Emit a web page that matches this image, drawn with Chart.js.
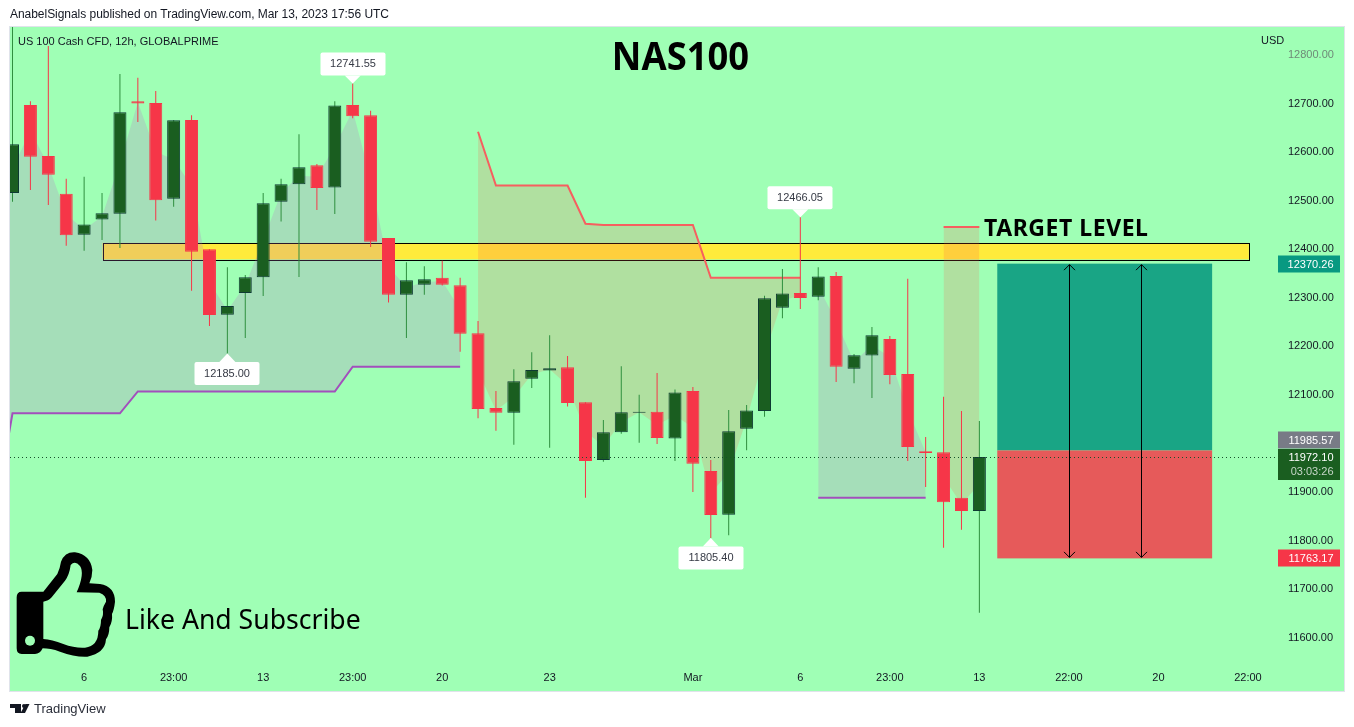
<!DOCTYPE html>
<html><head><meta charset="utf-8">
<style>html,body{margin:0;padding:0;background:#fff}canvas{display:block}</style>
<script src="https://cdn.jsdelivr.net/npm/chart.js@4/dist/chart.umd.min.js"></script>
</head><body><canvas id="c" width="1354" height="727"></canvas>
<script>
const opens=[12516,12697,12592,12514,12430,12461,12473,12705,12701,12504,12666,12400,12265,12310,12342,12498,12534,12573,12527,12697,12676,12423,12306,12327,12341,12326,12227,12073,12063,12133,12150,12157,12085,11966,12023,12063,12065,12010,12108,11943,11853,12030,12067,12279.5,12310,12302,12345,12154,12181,12215,12143,11984,11982,11888,11861];
const highs=[12860,12705,12818.5,12545,12549,12516,12761,12753,12726,12666,12676,12400,12363,12347,12516,12545,12637,12575.5,12705,12741.55,12685,12423,12373,12365,12376,12341,12252,12108,12153,12188,12223,12180,12085,12048,12159,12100,12145,12111,12116,11966,12069,12079,12304,12359,12466.05,12363,12353,12184,12240,12221,12339,12013,12096,12067,12046];
const lows=[12498,12522,12491,12407,12397,12419,12402.5,12662,12459,12487.5,12314.5,12242,12185,12217,12303.6,12457,12343,12481,12472.5,12670,12404.5,12290,12217,12306,12325,12189,12052,12026,11997,12114,11991,12076,11888,11962,12020,12001.5,11999,11964,11900,11805.4,11811,11986,12055,12258,12277,12295,12126.5,12124,12093.5,12122,11964,11910,11785,11822,11651];
const closes=[12616,12590.5,12553.5,12429,12451,12474,12682,12700,12501,12665.5,12395,12264.5,12283,12342,12494.6,12534,12569,12526,12696,12674,12415.5,12306,12336,12338,12327,12226,12071,12063,12128,12151,12155,12083,11964,12023,12064,12065,12011,12105,11958,11852.5,12025,12068,12299,12309,12299.5,12344,12158,12181.5,12223,12141,11992.6,11980,11879,11861,11972.1];
const priorMid=12530;
const supportA=[11850,12062,12062,12062,12062,12062,12062,12062,12107,12107,12107,12107,12107,12107,12107,12107,12107,12107,12107,12107,12158,12158,12158,12158,12158,12158,12158];
const resistanceA=[12642,12531,12531,12531,12531,12531,12452.5,12450,12450,12450,12450,12450,12450,12341,12341,12341,12341,12341,12341];
const supportB=[11888,11888,11888,11888,11888,11888,11888];
const resistanceB=[12446,12446,12446];
const xTickAt=[4,9,14,19,24,30,38,44,49,54,59,64,69];
const xTickText=['6','23:00','13','23:00','20','23','Mar','6','23:00','13','22:00','20','22:00'];
const priceTicks=[11600,11700,11800,11900,12000,12100,12200,12300,12400,12500,12600,12700,12800];
const targetZone={xFrom:5.03,xTo:69.05,top:12413,bottom:12379};
const position={xFrom:55,xTo:67,target:12370.26,entry:11985.57,stop:11763.17,arrows:[59,63]};
const lastPrice=11972.10, countdown='03:03:26';
const callouts=[{i:19,price:12741.55,up:true},{i:44,price:12466.05,up:true},{i:12,price:12185.00,up:false},{i:39,price:11805.40,up:false}];

const UP='#1a5e20',UPB='#0e3a33',UPW='#2f8f3f',DN='#f63648';
const idx=opens.map((_,i)=>i);
const isUp=i=>closes[i]>=opens[i];
const mid=i=>i<0?priorMid:(opens[i]+closes[i])/2;
const segLine=(vals,start)=>vals.map((v,k)=>({x:start+k,y:v}));
const segMid=(vals,start)=>vals.map((v,k)=>({x:start+k,y:mid(start+k)}));
const FILL_P='rgba(186,105,200,.22)',FILL_R='rgba(255,83,67,.18)',LINE_P='#a24fbc',LINE_R='#f65f5f';
function lineDs(vals,start,col,fillCol){return {type:'line',data:segLine(vals,start),borderColor:col,borderWidth:2,pointRadius:0,tension:0,fill:{target:'+1',above:fillCol,below:fillCol},order:5}}
function midDs(vals,start){return {type:'line',data:segMid(vals,start),borderWidth:0,borderColor:'rgba(0,0,0,0)',pointRadius:0,tension:0,fill:false,order:6}}

const frame={
 id:'frame',
 beforeDraw(ch){const c=ch.ctx;c.save();
  c.fillStyle='#fff';c.fillRect(0,0,1354,727);
  c.fillStyle='#9fffb5';c.fillRect(10,27,1334,664);
  c.strokeStyle='#e0e3eb';c.lineWidth=1;c.strokeRect(9.5,26.5,1335,665);
  c.restore();},
 beforeDatasetsDraw(ch){const c=ch.ctx,x=ch.scales.x,y=ch.scales.y;c.save();
  const x0=x.getPixelForValue(targetZone.xFrom),x1=x.getPixelForValue(targetZone.xTo),y0=y.getPixelForValue(targetZone.top),y1=y.getPixelForValue(targetZone.bottom);
  c.fillStyle='#ffeb3b';c.fillRect(x0,y0,x1-x0,y1-y0);c.strokeStyle='#000';c.lineWidth=1;
  c.strokeRect(Math.round(x0)+.5,Math.round(y0)+.5,Math.round(x1-x0),Math.round(y1-y0));
  c.restore();},
 afterDatasetsDraw(ch){const c=ch.ctx,x=ch.scales.x,y=ch.scales.y;c.save();
  // position box
  const px0=x.getPixelForValue(position.xFrom),px1=x.getPixelForValue(position.xTo);
  const yT=y.getPixelForValue(position.target),yE=y.getPixelForValue(position.entry),yS=y.getPixelForValue(position.stop);
  c.fillStyle='#19a585';c.fillRect(px0,yT,px1-px0,yE-yT);
  c.fillStyle='#e65a5a';c.fillRect(px0,yE,px1-px0,yS-yE);
  c.strokeStyle='#000';c.lineWidth=1;
  position.arrows.forEach(v=>{const ax=Math.round(x.getPixelForValue(v))+.5;
    c.beginPath();c.moveTo(ax,yT+1);c.lineTo(ax,yS-1);c.stroke();
    c.beginPath();c.moveTo(ax-5.5,yT+6.5);c.lineTo(ax,yT+1);c.lineTo(ax+5.5,yT+6.5);c.stroke();
    c.beginPath();c.moveTo(ax-5.5,yS-6.5);c.lineTo(ax,yS-1);c.lineTo(ax+5.5,yS-6.5);c.stroke();});
  // last price dotted
  const yL=Math.round(y.getPixelForValue(lastPrice))+.5;
  c.strokeStyle='#16502a';c.setLineDash([1,3]);c.beginPath();c.moveTo(10,yL);c.lineTo(1278,yL);c.stroke();c.setLineDash([]);
  // callouts
  callouts.forEach(o=>{const cx=x.getPixelForValue(o.i),ty=y.getPixelForValue(o.price),w=65,h=23;
    const bx=Math.round(cx)-32.5;const by=o.up?ty-31:ty+8.5;
    c.fillStyle='#fff';c.beginPath();c.roundRect(bx,by,w,h,2);c.fill();
    c.beginPath();
    if(o.up){c.moveTo(cx-8,by+h);c.lineTo(cx,ty);c.lineTo(cx+8,by+h);}else{c.moveTo(cx-8,by);c.lineTo(cx,ty);c.lineTo(cx+8,by);}
    c.fill();
    c.fillStyle='#363a45';c.font='11px "Liberation Sans"';c.textAlign='center';c.textBaseline='middle';
    c.fillText(o.price.toFixed(2),bx+w/2,by+h/2+.5);});
  // price axis tags
  const tag=(val,col,txtCol,shift)=>{const ty=Math.round(y.getPixelForValue(val))+shift;c.fillStyle=col;c.fillRect(1278,ty-8.5,62,17);
    c.fillStyle=txtCol;c.font='11px "Liberation Sans"';c.textAlign='right';c.textBaseline='middle';c.fillText(val.toFixed(2),1333.5,ty+.5);};
  tag(position.target,'#089981','#fff',0);
  tag(position.entry,'#787b86','#fff',-10);
  tag(position.stop,'#f63648','#fff',0);
  c.fillStyle='#1a5e20';c.fillRect(1278,449,62,31);
  c.textAlign='right';c.textBaseline='middle';c.fillStyle='#fff';c.font='11px "Liberation Sans"';
  c.fillText(lastPrice.toFixed(2),1333.5,457.5);
  c.fillStyle='#c6d6c8';c.fillText(countdown,1333.5,471.5);
  // header / footer / annotations
  c.textAlign='left';c.textBaseline='middle';c.fillStyle='#131722';
  c.font='12px "Liberation Sans"';c.letterSpacing='-0.04px';
  c.fillText('AnabelSignals published on TradingView.com, Mar 13, 2023 17:56 UTC',10,15);
  c.letterSpacing='0px';c.font='11px "Liberation Sans"';
  c.fillText('US 100 Cash CFD, 12h, GLOBALPRIME',18,41.5);
  c.fillText('USD',1261,40.5);
  c.font='13px "Liberation Sans"';c.fillStyle='#2a2e39';
  c.fillText('TradingView',34,709.5);
  c.fillStyle='#000';c.textAlign='center';
  c.save();c.translate(680.5,59);c.scale(0.91,1);c.font='bold 40px "Noto Sans"';c.fillText('NAS100',0,0);c.restore();
  c.textAlign='left';c.letterSpacing='0.55px';
  c.font='bold 23px "Noto Sans"';c.fillText('TARGET LEVEL',984,229.5);
  c.letterSpacing='0px';
  c.font='26.6px "Noto Sans"';c.fillText('Like And Subscribe',125,621);
  // logo
  c.fillStyle='#131722';
  c.beginPath();c.moveTo(10,704);c.lineTo(21,704);c.lineTo(21,713);c.lineTo(15,713);c.lineTo(15,708);c.lineTo(10,708);c.closePath();c.fill();
  c.beginPath();c.arc(24,706,2,0,7);c.fill();
  c.beginPath();c.moveTo(25.5,704);c.lineTo(29.5,704);c.lineTo(25,713);c.lineTo(20.5,713);c.closePath();c.fill();
  // thumb icon
  c.save();c.translate(0,540);c.scale(1/3,1/3);
  c.fillStyle='#000';c.beginPath();c.moveTo(65,155);c.lineTo(130,155);c.lineTo(172,102);c.quadraticCurveTo(180,85,183,65);c.quadraticCurveTo(195,35,225,37);c.quadraticCurveTo(272,45,277,90);c.quadraticCurveTo(277,110,268,130);c.lineTo(300,132);c.quadraticCurveTo(345,140,345,185);c.quadraticCurveTo(342,210,336,222);c.quadraticCurveTo(338,245,328,262);c.quadraticCurveTo(328,285,318,298);c.quadraticCurveTo(315,340,262,350);c.quadraticCurveTo(225,352,180,335);c.quadraticCurveTo(150,325,128,325);c.quadraticCurveTo(120,342,105,342);c.lineTo(65,342);c.quadraticCurveTo(50,342,50,325);c.lineTo(50,172);c.quadraticCurveTo(50,155,65,155);c.closePath();c.fill();
  c.fillStyle='#9fffb5';c.beginPath();c.moveTo(130,297);c.lineTo(130,185);c.quadraticCurveTo(145,183,155,172);c.lineTo(195,122);c.quadraticCurveTo(208,105,212,75);c.quadraticCurveTo(225,60,240,78);c.quadraticCurveTo(255,100,230,157);c.lineTo(298,158);c.quadraticCurveTo(320,165,318,185);c.quadraticCurveTo(310,198,308,208);c.quadraticCurveTo(312,225,303,240);c.quadraticCurveTo(303,262,295,272);c.quadraticCurveTo(295,318,255,323);c.quadraticCurveTo(225,325,190,312);c.quadraticCurveTo(155,298,130,297);c.closePath();c.fill();
  c.beginPath();c.arc(90,302,15,0,7);c.fill();
  c.restore();
  c.restore();}
};

new Chart(document.getElementById('c'),{
 type:'bar',
 data:{datasets:[
  lineDs(supportA,-1,LINE_P,FILL_P),midDs(supportA,-1),
  lineDs(resistanceA,26,LINE_R,FILL_R),midDs(resistanceA,26),
  lineDs(supportB,45,LINE_P,FILL_P),midDs(supportB,45),
  lineDs(resistanceB,52,LINE_R,FILL_R),midDs(resistanceB,52),
  {type:'bar',data:idx.map(i=>({x:i,y:[lows[i],highs[i]]})),barThickness:1,grouped:false,inflateAmount:0,borderWidth:0,
   backgroundColor:idx.map(i=>isUp(i)?UPW:DN),order:2},
  {type:'bar',data:idx.map(i=>({x:i,y:[Math.min(opens[i],closes[i]),Math.max(opens[i],closes[i])]})),barThickness:13,grouped:false,inflateAmount:0,borderWidth:1,borderSkipped:false,
   backgroundColor:idx.map(i=>isUp(i)?UP:DN),borderColor:idx.map(i=>isUp(i)?UPB:DN),order:1}
 ]},
 options:{responsive:false,animation:false,devicePixelRatio:1,
  layout:{padding:{left:10,right:10,top:27,bottom:36}},
  plugins:{legend:{display:false},tooltip:{enabled:false},title:{display:false}},
  scales:{
   x:{type:'linear',offset:false,min:-0.14,max:69.45,
     grid:{display:false,tickLength:0},border:{display:false},
     afterFit(s){s.height=28;s.paddingLeft=0;s.paddingRight=0},
     afterBuildTicks(s){s.ticks=xTickAt.map(v=>({value:v}))},
     ticks:{autoSkip:false,maxRotation:0,padding:8,color:'#131722',font:{family:'"Liberation Sans"',size:11},
       callback(v){const k=xTickAt.indexOf(v);return k<0?'':xTickText[k]}}},
   y:{type:'linear',position:'right',min:11547.7,max:12857.7,
     grid:{display:false,tickLength:0},border:{display:false},
     afterFit(s){s.width=88;s.paddingTop=0;s.paddingBottom=0},
     afterBuildTicks(s){s.ticks=priceTicks.map(v=>({value:v}))},
     ticks:{padding:32,color:c=>c.tick&&c.tick.value===12800?'#6f8a78':'#131722',font:{family:'"Liberation Sans"',size:11},
       callback(v){return v.toFixed(2)}}}
  }},
 plugins:[frame]
});
</script></body></html>
